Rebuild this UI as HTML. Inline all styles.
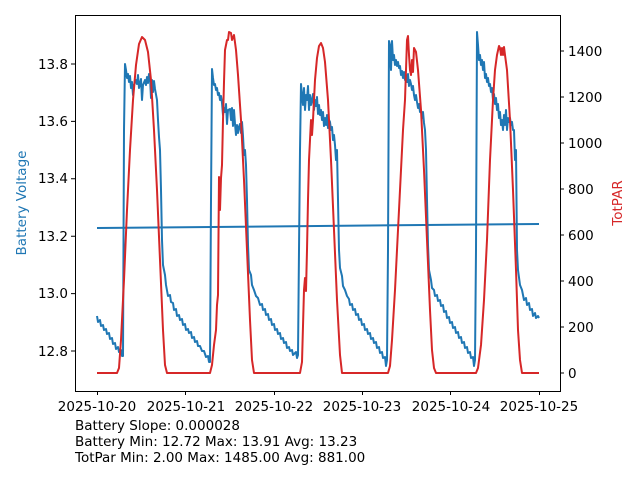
<!DOCTYPE html>
<html><head><style>
body{margin:0;background:#fff;}
svg text{font-family:"DejaVu Sans","Liberation Sans",sans-serif;}
</style></head><body>
<svg width="640" height="480" xmlns="http://www.w3.org/2000/svg">
<rect width="640" height="480" fill="#fff"/>
<g fill="none" stroke-linejoin="round" stroke-width="2">
<path stroke="#1f77b4" d="M97,316 L98,322 L100,320 L101,326 L103,325 L104,330 L106,329 L107,334 L109,333 L110,339 L112,338 L113,344 L115,343 L116,349 L118,347 L119,352 L121,350 L122,356 L123,356 L124,130 L125,64 L126,70 L127,78 L128,74 L129,82 L130,76 L131,88 L132,82 L133,95 L134,85 L136,80 L137,84 L138,75 L139,88 L140,84 L141,79 L142,100 L143,85 L145,80 L146,85 L147,77 L148,83 L149,74 L150,78 L151,98 L152,80 L153,92 L154,81 L155,89 L157,100 L158,120 L159,137 L160,150 L161,190 L162,240 L163,265 L165,275 L166,285 L168,296 L170,295 L171,302 L173,303 L174,310 L176,309 L177,316 L179,315 L180,320 L182,319 L183,325 L185,324 L186,330 L188,329 L189,333 L191,332 L192,338 L194,337 L195,342 L197,341 L198,346 L200,346 L202,351 L204,351 L206,357 L208,356 L209,362 L210,362 L211,200 L212,69 L213,78 L214,85 L215,84 L216,90 L217,88 L218,95 L219,93 L220,100 L221,96 L222,103 L223,115 L224,108 L225,112 L226,104 L227,124 L228,110 L230,109 L231,120 L232,108 L233,126 L234,110 L235,124 L236,135 L237,125 L238,133 L239,127 L240,124 L241,133 L242,122 L243,136 L244,155 L245,150 L246,165 L247,200 L248,245 L249,270 L251,275 L252,285 L254,290 L256,296 L258,298 L260,305 L262,304 L263,310 L265,309 L266,315 L268,314 L269,320 L271,319 L272,325 L274,324 L275,330 L277,329 L278,334 L280,333 L281,339 L283,338 L284,343 L286,342 L287,348 L289,347 L290,351 L292,350 L293,355 L294,354 L296,352 L297,358 L298,355 L299,250 L300,150 L301,84 L302,95 L303,105 L304,88 L305,110 L306,95 L307,100 L308,86 L309,110 L310,95 L311,105 L312,100 L313,94 L314,110 L315,100 L316,106 L317,97 L318,114 L319,105 L320,115 L321,110 L322,120 L323,112 L324,126 L325,118 L326,125 L327,115 L328,128 L329,120 L330,122 L331,130 L332,127 L333,140 L334,135 L335,145 L336,160 L337,150 L338,200 L339,250 L340,268 L342,276 L343,286 L345,290 L347,296 L349,299 L350,305 L352,304 L353,310 L355,309 L356,315 L358,314 L359,320 L361,319 L362,325 L364,324 L365,330 L367,329 L368,334 L370,333 L371,339 L373,338 L374,343 L376,342 L377,348 L379,347 L380,353 L382,352 L383,358 L385,357 L386,366 L387,360 L388,250 L389,41 L390,45 L391,70 L392,41 L393,60 L394,55 L395,65 L396,60 L397,66 L398,62 L399,68 L400,66 L401,75 L402,71 L403,78 L404,72 L405,80 L406,75 L407,82 L408,74 L409,86 L410,80 L411,84 L412,90 L413,86 L414,95 L415,100 L416,95 L417,102 L418,108 L419,104 L420,112 L421,110 L422,118 L423,112 L424,123 L425,130 L426,150 L427,200 L428,245 L429,270 L431,280 L432,288 L434,290 L435,296 L437,295 L438,301 L440,300 L441,306 L443,305 L444,312 L446,311 L447,318 L449,317 L450,323 L452,322 L453,328 L455,327 L456,333 L458,332 L459,338 L461,337 L462,343 L464,342 L465,348 L467,347 L468,353 L470,352 L471,358 L473,357 L474,366 L475,360 L476,250 L477,32 L478,45 L479,60 L480,55 L481,65 L482,60 L483,70 L484,62 L485,78 L486,74 L487,82 L488,78 L489,86 L490,84 L491,92 L492,88 L493,100 L494,94 L495,104 L496,98 L497,110 L498,104 L499,118 L500,112 L501,125 L502,120 L503,130 L504,115 L505,125 L506,110 L507,130 L508,118 L509,122 L510,118 L511,125 L512,122 L513,130 L514,130 L515,160 L516,150 L517,250 L518,270 L520,285 L522,290 L524,300 L526,298 L527,305 L529,303 L530,310 L532,309 L533,316 L535,313 L536,318 L538,316 L539,318"/>
<path stroke="#1f77b4" d="M97,228 L539,224"/>
<path stroke="#d62728" d="M97,373 L117,373 L119,368 L121,340 L124,280 L127,210 L130,150 L133,100 L136,65 L139,44 L142,37 L145,40 L148,52 L151,80 L154,130 L157,190 L160,260 L163,330 L165,365 L167,373 L210,373 L212,365 L214,345 L216,330 L217,305 L218,295 L219,177 L220,210 L221,178 L222,165 L223,120 L224,82 L225,50 L227,40 L228,40 L229,32 L231,33 L232,40 L234,35 L236,50 L238,75 L241,120 L244,180 L247,250 L250,320 L252,360 L254,373 L300,373 L302,362 L304,290 L305,278 L306,291 L307,250 L308,200 L309,160 L310,140 L311,120 L312,135 L313,120 L315,80 L317,58 L319,46 L321,43 L323,48 L325,62 L328,100 L331,160 L334,230 L337,300 L340,355 L342,373 L388,373 L390,366 L392,340 L395,290 L398,230 L401,170 L403,130 L405,100 L406,70 L407,40 L408,36 L409,55 L410,70 L411,75 L412,60 L413,72 L414,48 L416,52 L418,70 L421,110 L424,170 L427,240 L430,310 L432,350 L434,368 L436,373 L476,373 L478,368 L481,345 L484,300 L487,240 L490,160 L493,100 L495,70 L497,55 L499,46 L500,48 L501,55 L502,48 L503,55 L504,47 L505,55 L507,70 L510,120 L513,190 L516,270 L518,330 L520,360 L522,373 L539,373"/>
</g>
<rect x="75.5" y="15.5" width="485" height="376" fill="none" stroke="#000" stroke-width="1"/>
<g stroke="#000" stroke-width="1">
<path d="M75,351h-4M75,293.6h-4M75,236.2h-4M75,178.8h-4M75,121.4h-4M75,64h-4"/>
<path d="M560,373h4M560,327h4M560,281h4M560,235h4M560,189h4M560,143h4M560,97h4M560,51h4"/>
<path d="M97.5,391v4M185.5,391v4M274.5,391v4M362.5,391v4M450.5,391v4M539.5,391v4"/>
</g>
<g font-size="13.5" fill="#000" text-anchor="end">
<text x="68" y="356">12.8</text><text x="68" y="298">13.0</text><text x="68" y="241">13.2</text>
<text x="68" y="183">13.4</text><text x="68" y="126">13.6</text><text x="68" y="69">13.8</text>
</g>
<g font-size="13.5" fill="#000">
<text x="568" y="378">0</text><text x="568" y="332">200</text><text x="568" y="286">400</text>
<text x="568" y="240">600</text><text x="568" y="194">800</text><text x="568" y="148">1000</text>
<text x="568" y="102">1200</text><text x="568" y="56">1400</text>
</g>
<g font-size="13.5" fill="#000" text-anchor="middle">
<text x="97" y="411">2025-10-20</text><text x="186" y="411">2025-10-21</text><text x="274" y="411">2025-10-22</text>
<text x="362" y="411">2025-10-23</text><text x="451" y="411">2025-10-24</text><text x="539" y="411">2025-10-25</text>
</g>
<text transform="translate(26,203) rotate(-90)" font-size="13.5" fill="#1f77b4" text-anchor="middle">Battery Voltage</text>
<text transform="translate(622,203) rotate(-90)" font-size="13.5" fill="#d62728" text-anchor="middle">TotPAR</text>
<g font-size="13.5" fill="#000">
<text x="75" y="430">Battery Slope: 0.000028</text>
<text x="75" y="446">Battery Min: 12.72 Max: 13.91 Avg: 13.23</text>
<text x="75" y="462">TotPar Min: 2.00 Max: 1485.00 Avg: 881.00</text>
</g>
</svg>
</body></html>
